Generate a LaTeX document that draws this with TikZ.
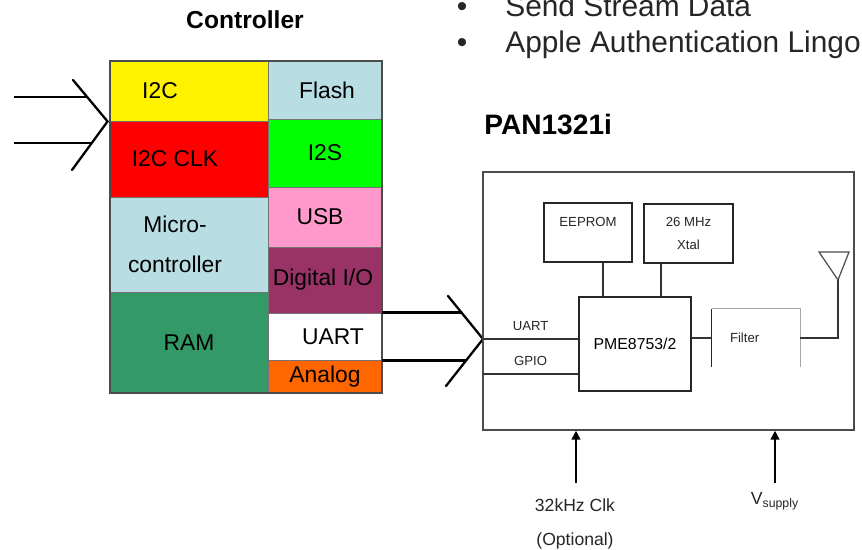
\documentclass[tikz,border=0pt]{standalone}
\usepackage{fontspec}
\setmainfont{Liberation Sans}
\usetikzlibrary{arrows.meta}
\usetikzlibrary{calc}

\definecolor{ctlblue}{HTML}{B8DEE3}
\definecolor{ramgreen}{HTML}{339966}
\definecolor{usbpink}{HTML}{FF99CC}
\definecolor{diopurple}{HTML}{993366}
\definecolor{anorange}{HTML}{FF6600}

\tikzset{
  cell/.style = {draw = black!55, line width = 0.5pt, inner sep = 0pt},
  celltext/.style = {align = center, font = \fontsize{13}{15}\selectfont},
  chev/.style = {line width = 1.3pt, line cap = round},
  bus/.style = {line width = 1.5pt},
  wire/.style = {line width = 0.7pt, black!80},
  blk/.style = {draw = black!85, line width = 0.8pt, inner sep = 0pt},
  lbl/.style = {font = \fontsize{7.5}{9}\selectfont, text = black!85},
  feed/.style = {line width = 0.8pt, -{Triangle[length = 5pt, width = 5pt]}}
}

\begin{document}
\begin{tikzpicture}[x = 0.02cm, y = -0.02cm]
  \useasboundingbox (0, 0) rectangle (862, 550);

  % controller cells
  \foreach \n/\xa/\ya/\xb/\yb/\col/\dx/\txt in {
    i2c/110/61/268/121/yellow/-29/I2C,
    i2cclk/110/121/268/197/red/-14/I2C CLK,
    micro/110/197/268/292/ctlblue/-14/{Micro-\\[8pt]controller},
    ram/110/292/268/393/ramgreen/0/RAM,
    flash/268/61/382/119/ctlblue/2/Flash,
    i2s/268/119/382/187/green/0/I2S,
    usb/268/187/382/247/usbpink/-5/USB,
    dio/268/247/382/313/diopurple/-2/{Digital I/O},
    uart/268/313/382/360/white/8/UART,
    analog/268/360/382/393/anorange/0/Analog}{
    \node[cell, fill = \col, minimum width = {(\xb-\xa)*0.02cm},
      minimum height = {(\yb-\ya)*0.02cm}]
      (\n) at ({(\xa+\xb)/2}, {(\ya+\yb)/2}) {};
    \node[celltext] (\n-t) at ($(\n.center)+(\dx, 0)$) {\txt};
  }
  \draw[black!70, line width = 1.1pt] (i2c.north west) rectangle (analog.south east);

  \node[font = \fontsize{14}{16}\selectfont\bfseries] (ctltitle) at (245, 20) {Controller};

  % inputs into the controller
  \coordinate (inTip) at ([xshift = -0.04cm]i2c.south west);
  \coordinate (inA) at (14, 97);
  \coordinate (inB) at (14, 143);
  \draw[bus] (inA) -- ++(74, 0);
  \draw[bus] (inB) -- ++(78, 0);
  \draw[chev] (73, 80) -- (inTip) -- (72, 170);

  % uart link to the module
  \coordinate (outTip) at (483, 339);
  \draw[bus] (uart.north east) -- ++(79, 0);
  \draw[bus] (uart.south east) -- ++(84, 0);
  \draw[chev] (448, 296) -- (outTip) -- (446, 386);

  % bullets
  \foreach \t [count = \i] in {Send Stream Data, Apple Authentication Lingo}{
    \node[anchor = base, font = \fontsize{17}{20}\selectfont, text = black!85]
      (dot\i) at (462, {17+36*(\i-1)}) {\textbullet};
    \node[anchor = base west, inner sep = 0pt, font = \fontsize{17}{20}\selectfont,
      text = black!85] (item\i) at (505, {17+36*(\i-1)}) {\t};
  }

  % PAN1321i module
  \node[anchor = west, inner sep = 0pt, font = \fontsize{16}{19}\selectfont\bfseries]
    (pantitle) at (484, 124) {PAN1321i};
  \node[draw = black!70, line width = 0.9pt, minimum width = 7.42cm,
    minimum height = 5.16cm] (pan) at (668.5, 301) {};

  \node[blk, minimum width = 1.76cm, minimum height = 1.18cm] (eeprom) at (588, 232.5) {};
  \node[lbl] (eeprom-t) at (588, 222) {EEPROM};
  \node[blk, minimum width = 1.78cm, minimum height = 1.18cm, lbl, align = center]
    (xtal) at (688.5, 233.5) {26 MHz\\[4.5pt]Xtal};
  \node[blk, minimum width = 2.24cm, minimum height = 1.88cm,
    font = \fontsize{9}{11}\selectfont] (pme) at (635, 344) {PME8753/2};
  \node[minimum height = 1.16cm, inner xsep = 0.36cm, text width = 1.04cm,
    align = left, lbl] (filter) at (756, 338) {Filter};
  \draw[black!85, line width = 0.8pt] (filter.north west) -- (filter.south west);
  \draw[black!35, line width = 0.6pt] (filter.north west) -- (filter.north east)
    -- (filter.south east);

  \draw[wire] (eeprom.south) ++(15, 0) coordinate (e1) -- (e1 |- pme.north);
  \draw[wire] (xtal.south) ++(-27.5, 0) coordinate (x1) -- (x1 |- pme.north);
  \draw[wire] (filter.west -| pme.east) -- (filter.west);

  \draw[wire] (outTip) -- (outTip -| pme.west)
    node[lbl, midway, above, yshift = 1pt] (uartlbl) {UART};
  \coordinate (gpioIn) at (483, 374);
  \draw[wire] (gpioIn) -- (gpioIn -| pme.west)
    node[lbl, midway, above, yshift = 1pt] (gpiolbl) {GPIO};

  % antenna
  \coordinate (ant) at (838, 280);
  \draw[wire] (filter.east) -- (filter.east -| ant) -- (ant);
  \draw[black!70, line width = 0.7pt] (819, 252) -- (849, 252) -- (ant) -- cycle;

  % feeds from below
  \coordinate (clkIn) at (576, 483);
  \coordinate (vIn) at (775, 483);
  \draw[feed] (clkIn) -- (clkIn |- pan.south);
  \draw[feed] (vIn) -- (vIn |- pan.south);
  \node[align = center, font = \fontsize{10}{12}\selectfont, text = black!85]
    (clk) at (575, 524) {32kHz Clk\\[7pt](Optional)};
  \node[font = \fontsize{10}{12}\selectfont, text = black!85]
    (vsup) at (775, 501) {V\textsubscript{supply}};
\end{tikzpicture}
\end{document}
